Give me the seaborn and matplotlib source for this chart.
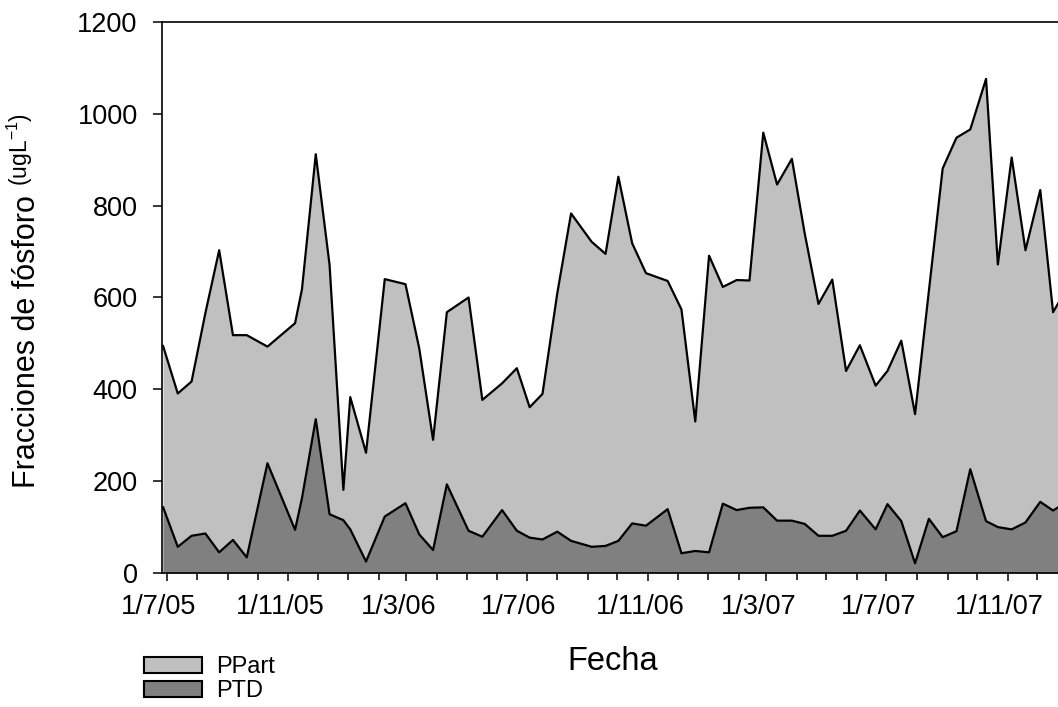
import matplotlib
matplotlib.use("Agg")
import matplotlib.pyplot as plt
import matplotlib.dates as mdates
import matplotlib.transforms as mtransforms
from matplotlib.patches import Patch
from matplotlib.ticker import FixedLocator, FuncFormatter
import seaborn as sns
import pandas as pd

# ---------------- data ----------------
dates = [
    "2005-06-27", "2005-07-12", "2005-07-26", "2005-08-09", "2005-08-23",
    "2005-09-06", "2005-09-20", "2005-10-11", "2005-11-08", "2005-11-15",
    "2005-11-29", "2005-12-13", "2005-12-27", "2006-01-03", "2006-01-19",
    "2006-02-07", "2006-02-28", "2006-03-14", "2006-03-28", "2006-04-11",
    "2006-05-03", "2006-05-17", "2006-06-06", "2006-06-21", "2006-07-04",
    "2006-07-17", "2006-08-01", "2006-08-15", "2006-09-05", "2006-09-19",
    "2006-10-02", "2006-10-16", "2006-10-30", "2006-11-21", "2006-12-05",
    "2006-12-19", "2007-01-02", "2007-01-16", "2007-01-30", "2007-02-12",
    "2007-02-26", "2007-03-12", "2007-03-27", "2007-04-09", "2007-04-23",
    "2007-05-07", "2007-05-21", "2007-06-04", "2007-06-20", "2007-07-02",
    "2007-07-16", "2007-07-30", "2007-08-13", "2007-08-27", "2007-09-10",
    "2007-09-24", "2007-10-10", "2007-10-22", "2007-11-05", "2007-11-19",
    "2007-12-04", "2007-12-17", "2007-12-31",
]
ptd = [
    144, 57, 81, 86, 45, 72, 34, 239, 94, 163,
    335, 128, 115, 95, 25, 123, 152, 84, 50, 193,
    92, 79, 137, 92, 77, 73, 90, 70, 57, 59,
    70, 108, 103, 139, 43, 48, 45, 151, 137, 142,
    143, 114, 114, 107, 81, 81, 92, 136, 95, 150,
    113, 21, 118, 78, 91, 226, 113, 100, 95, 110,
    155, 136, 155,
]
ppart = [
    351, 334, 336, 480, 658, 446, 484, 254, 450, 455,
    577, 543, 66, 288, 237, 517, 477, 405, 240, 375,
    508, 298, 276, 354, 284, 317, 519, 713, 664, 636,
    793, 610, 550, 497, 531, 282, 646, 472, 501, 495,
    816, 732, 788, 633, 505, 558, 348, 360, 313, 290,
    393, 325, 496, 803, 857, 740, 963, 572, 810, 593,
    679, 432, 465,
]
series_labels = ["PPart", "PTD"]
y_ticks = [0, 200, 400, 600, 800, 1000, 1200]
tick_months = [7, 11, 3]

df = pd.DataFrame({"fecha": pd.to_datetime(dates), "PTD": ptd, "PPart": ppart})
df["total"] = df["PTD"] + df["PPart"]

# ---------------- style ----------------
sns.set_theme(style="ticks")
plt.rcParams["font.family"] = ["Liberation Sans", "DejaVu Sans"]
plt.rcParams["mathtext.fontset"] = "custom"
plt.rcParams["mathtext.rm"] = "Liberation Sans"
plt.rcParams["mathtext.it"] = "Liberation Sans"
plt.rcParams["mathtext.default"] = "regular"
plt.rcParams["text.color"] = "black"
plt.rcParams["axes.labelcolor"] = "black"
plt.rcParams["xtick.color"] = "black"
plt.rcParams["ytick.color"] = "black"

W, H = 1058, 707
fig = plt.figure(figsize=(W / 100, H / 100), dpi=100)
ax = fig.add_axes([162 / W, 1 - 573 / H, (W - 162) / W, (573 - 22) / H])

c_light = "#c0c0c0"
c_dark = "#808080"

ax.fill_between(df["fecha"], 0, df["total"], color=c_light, lw=0, zorder=1)
ax.fill_between(df["fecha"], 0, df["PTD"], color=c_dark, lw=0, zorder=2)
sns.lineplot(data=df, x="fecha", y="total", color="black", lw=1.6, ax=ax, zorder=3)
sns.lineplot(data=df, x="fecha", y="PTD", color="black", lw=1.6, ax=ax, zorder=3)

ax.set_xlim(pd.Timestamp("2005-06-26"), pd.Timestamp("2007-12-22"))
ax.set_ylim(0, 1200)
ax.set_xlabel("")
ax.set_ylabel("")

# ticks
major_dates = [d for d in pd.date_range("2005-07-01", "2007-12-01", freq="MS") if d.month in tick_months]
ax.xaxis.set_major_locator(FixedLocator(mdates.date2num(major_dates)))
ax.xaxis.set_minor_locator(mdates.MonthLocator())
ax.xaxis.set_major_formatter(FuncFormatter(
    lambda v, p: (lambda d: f"{d.day}/{d.month}/{d:%y}")(mdates.num2date(v))))
ax.set_yticks(y_ticks)

ax.tick_params(axis="y", which="major", direction="out", length=6.5, width=1.1,
               labelsize=19.5, pad=11, colors="black")
ax.tick_params(axis="x", which="major", direction="out", length=6, width=1.1,
               labelsize=19.5, pad=9, colors="black")
ax.tick_params(axis="x", which="minor", direction="out", length=5, width=1.1,
               colors="black", bottom=True)

for side in ["left", "bottom", "top"]:
    ax.spines[side].set_linewidth(1.2)
    ax.spines[side].set_color("black")
ax.spines["right"].set_visible(False)

offset = mtransforms.ScaledTranslation(-8 / 100, 0, fig.dpi_scale_trans)
for lab in ax.xaxis.get_majorticklabels():
    lab.set_transform(lab.get_transform() + offset)

# axis titles
fig.text(613 / W, 1 - 670 / H, "Fecha", fontsize=23.5, ha="center", va="baseline")
fig.text(35 / W, 1 - 488 / H, "Fracciones de fósforo", fontsize=22, rotation=90,
         rotation_mode="anchor", ha="left", va="baseline")
fig.text(28 / W, 1 - 186 / H, "(ugL$^{-1}$)", fontsize=16.5, rotation=90,
         rotation_mode="anchor", ha="left", va="baseline")

# legend
handles = [Patch(facecolor=c_light, edgecolor="black", lw=1.5),
           Patch(facecolor=c_dark, edgecolor="black", lw=1.5)]
fig.legend(handles, series_labels, loc="upper left",
           bbox_to_anchor=(144 / W, 1 - 656 / H), frameon=False,
           fontsize=17, handlelength=2.45, handleheight=0.68,
           handletextpad=0.6, labelspacing=0.08, borderpad=0, borderaxespad=0)

fig.savefig("out.png", dpi=100)
